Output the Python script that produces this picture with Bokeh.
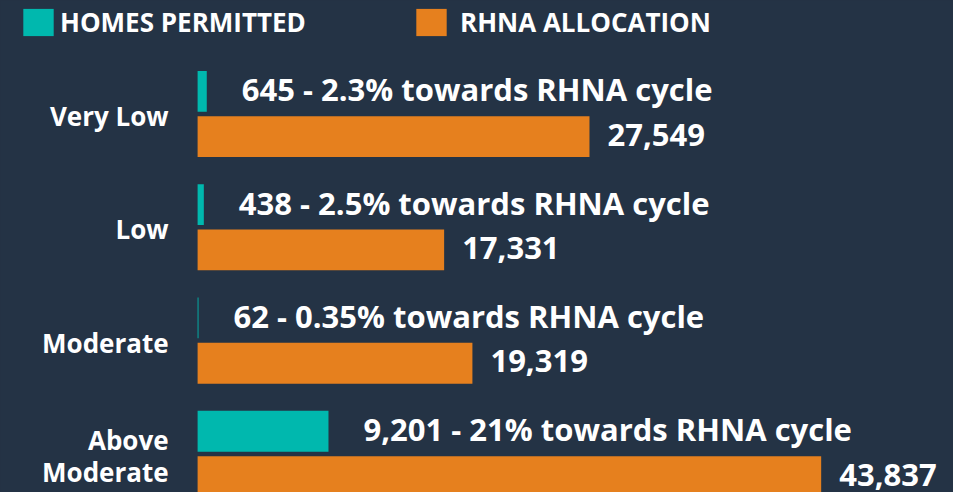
from bokeh.plotting import figure
from bokeh.models import ColumnDataSource, Range1d, Legend, LegendItem
from bokeh.core.properties import value
from bokeh.embed import file_html
from bokeh.resources import INLINE

# ---- data ----
categories = ["Very Low", "Low", "Moderate", "Above\nModerate"]
permitted = [645, 438, 62, 9201]
allocation = [27549, 17331, 19319, 43837]
pct_labels = ["2.3%", "2.5%", "0.35%", "21%"]
legend_labels = ["HOMES PERMITTED", "RHNA ALLOCATION"]

BG = "#243345"
TEAL = "#00B8AE"
ORANGE = "#E6801E"
FONT = "Open Sans"

W, H = 953, 492
idx = list(range(len(categories)))

src = ColumnDataSource(dict(
    cat=categories,
    y_perm=[i - 0.2 for i in idx],
    y_alloc=[i + 0.2 for i in idx],
    y_cat=idx,
    permitted=permitted,
    allocation=allocation,
    perm_text=[f"{p:,} - {s} towards RHNA cycle" for p, s in zip(permitted, pct_labels)],
    alloc_text=[f"{a:,}" for a in allocation],
    zero=[0] * len(idx),
))

p = figure(width=W, height=H, output_backend="svg", toolbar_location=None,
           x_range=Range1d(-13856, 53139), y_range=Range1d(3.3407, -1.0018),
           min_border=0, background_fill_color=BG, border_fill_color=BG,
           outline_line_color=None)
p.axis.visible = False
p.grid.visible = False

r_perm = p.hbar(y="y_perm", left=0, right="permitted", height=0.36, source=src,
                fill_color=TEAL, line_color=None)
r_alloc = p.hbar(y="y_alloc", left=0, right="allocation", height=0.36, source=src,
                 fill_color=ORANGE, line_color=None)

p.text(x="permitted", y="y_perm", text="perm_text", source=src, x_offset=35, y_offset=-2,
       text_font=value(FONT), text_font_style="bold", text_font_size="31px",
       text_color="white", text_align="left", text_baseline="middle")
p.text(x="allocation", y="y_alloc", text="alloc_text", source=src, x_offset=18, y_offset=-2,
       text_font=value(FONT), text_font_style="bold", text_font_size="31px",
       text_color="white", text_align="left", text_baseline="middle")
p.text(x="zero", y="y_cat", text="cat", source=src, x_offset=-29, y_offset=2,
       text_font=value(FONT), text_font_style="bold", text_font_size="26px",
       text_color="white", text_align="right", text_baseline="middle",
       text_line_height=0.88)

def make_legend(label, rend, x, standoff):
    lg = Legend(items=[LegendItem(label=label, renderers=[rend])],
                location=(x, H - 6 - 34), orientation="horizontal",
                glyph_width=38, glyph_height=34, label_height=34,
                label_standoff=standoff, padding=0, margin=0, spacing=0,
                label_text_font=FONT, label_text_font_style="bold",
                label_text_font_size="26px", label_text_color="white",
                label_text_baseline="middle",
                background_fill_alpha=0, border_line_alpha=0)
    p.add_layout(lg)

make_legend(legend_labels[0], r_perm, 19, 3)
make_legend(legend_labels[1], r_alloc, 412, 10)

html = file_html(p, INLINE)
html = html.replace("<head>", "<head><style>html,body{margin:0;padding:0;background:%s;overflow:hidden;}</style>" % BG, 1)
open("out.html", "w").write(html)
